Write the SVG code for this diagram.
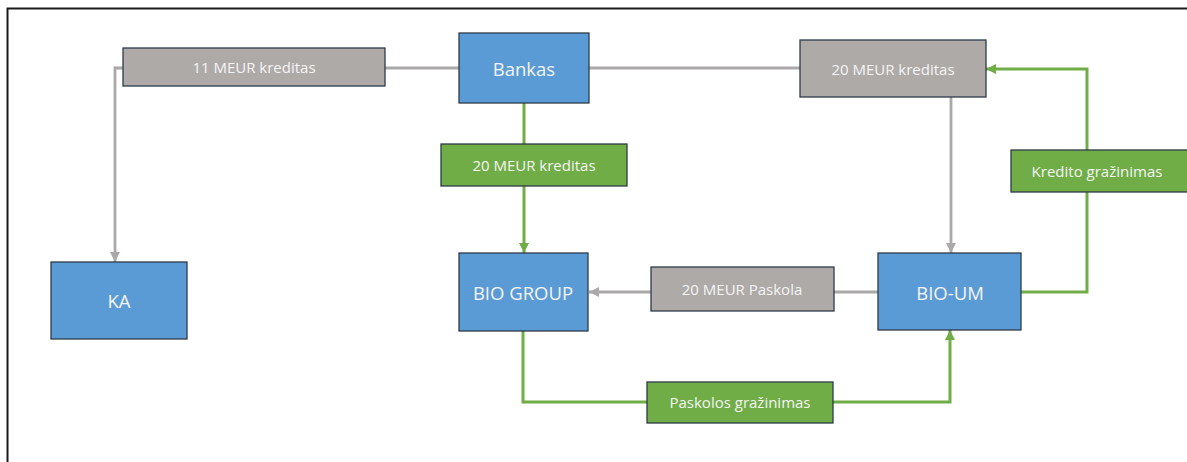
<svg xmlns="http://www.w3.org/2000/svg" width="1187" height="462" viewBox="0 0 1187 462">
  <style>
    .node rect { stroke: #2f3b4a; stroke-width: 1.3; }
    .blue { fill: #5b9bd5; }
    .grey { fill: #aeaaa8; }
    .green { fill: #70ad47; }
    text { font-family: "Open Sans", "Liberation Sans", sans-serif; fill: #f4f4f4; text-anchor: middle; dominant-baseline: central; }
    .big { font-size: 18.5px; }
    .small { font-size: 15px; }
    .gline { fill: none; stroke: #aaa8a8; stroke-width: 2.8; }
    .vline { fill: none; stroke: #70ad47; stroke-width: 3; }
  </style>
  <defs>
    <marker id="ahGrey" viewBox="0 0 10 10" refX="10" refY="5" markerWidth="10" markerHeight="10" markerUnits="userSpaceOnUse" orient="auto">
      <path d="M0,0 L10,5 L0,10 z" fill="#aaa8a8"/>
    </marker>
    <marker id="ahGreen" viewBox="0 0 10 10" refX="10" refY="5" markerWidth="10" markerHeight="10" markerUnits="userSpaceOnUse" orient="auto">
      <path d="M0,0 L10,5 L0,10 z" fill="#70ad47"/>
    </marker>
  </defs>

  <rect width="1187" height="462" fill="#ffffff"/>
  <!-- frame -->
  <path d="M7.5,470 V8.5 H1200" fill="none" stroke="#1a1a1a" stroke-width="2"/>

  <g id="connectors">
    <!-- Bankas to KA via 11 MEUR kreditas -->
    <path class="gline" d="M459,68 H115 V262" marker-end="url(#ahGrey)"/>
    <!-- Bankas to BIO-UM via 20 MEUR kreditas -->
    <path class="gline" d="M589,68 H951 V253" marker-end="url(#ahGrey)"/>
    <!-- BIO-UM to BIO GROUP via 20 MEUR Paskola -->
    <path class="gline" d="M878,292 H589" marker-end="url(#ahGrey)"/>
    <!-- Bankas to BIO GROUP via green credit -->
    <path class="vline" d="M524,103 V253" marker-end="url(#ahGreen)"/>
    <!-- BIO GROUP repayment to BIO-UM -->
    <path class="vline" d="M523,331 V402 H950 V330" marker-end="url(#ahGreen)"/>
    <!-- BIO-UM credit repayment back to bank credit -->
    <path class="vline" d="M1021,292 H1087 V69 H986" marker-end="url(#ahGreen)"/>
  </g>

  <g id="lbl-11meur" class="node">
    <rect class="grey" x="123" y="48" width="262" height="38"/>
    <text class="small" x="254" y="67">11 MEUR kreditas</text>
  </g>
  <g id="bankas" class="node">
    <rect class="blue" x="459" y="33" width="130" height="70"/>
    <text class="big" x="524" y="68">Bankas</text>
  </g>
  <g id="lbl-20meur-grey" class="node">
    <rect class="grey" x="800" y="40" width="186" height="57"/>
    <text class="small" x="893" y="69">20 MEUR kreditas</text>
  </g>
  <g id="lbl-20meur-green" class="node">
    <rect class="green" x="441" y="144" width="186" height="42"/>
    <text class="small" x="534" y="165">20 MEUR kreditas</text>
  </g>
  <g id="lbl-kredito" class="node">
    <rect class="green" x="1011" y="150" width="180" height="42"/>
    <text class="small" x="1097" y="171">Kredito gražinimas</text>
  </g>
  <g id="ka" class="node">
    <rect class="blue" x="51" y="262" width="136" height="77"/>
    <text class="big" x="119" y="300">KA</text>
  </g>
  <g id="bio-group" class="node">
    <rect class="blue" x="459" y="253" width="129" height="78"/>
    <text class="big" x="523" y="292">BIO GROUP</text>
  </g>
  <g id="lbl-paskola" class="node">
    <rect class="grey" x="651" y="267" width="183" height="44"/>
    <text class="small" x="742" y="289">20 MEUR Paskola</text>
  </g>
  <g id="bio-um" class="node">
    <rect class="blue" x="878" y="253" width="143" height="77"/>
    <text class="big" x="950" y="292">BIO-UM</text>
  </g>
  <g id="lbl-paskolos" class="node">
    <rect class="green" x="647" y="382" width="186" height="41"/>
    <text class="small" x="740" y="402">Paskolos gražinimas</text>
  </g>
</svg>
